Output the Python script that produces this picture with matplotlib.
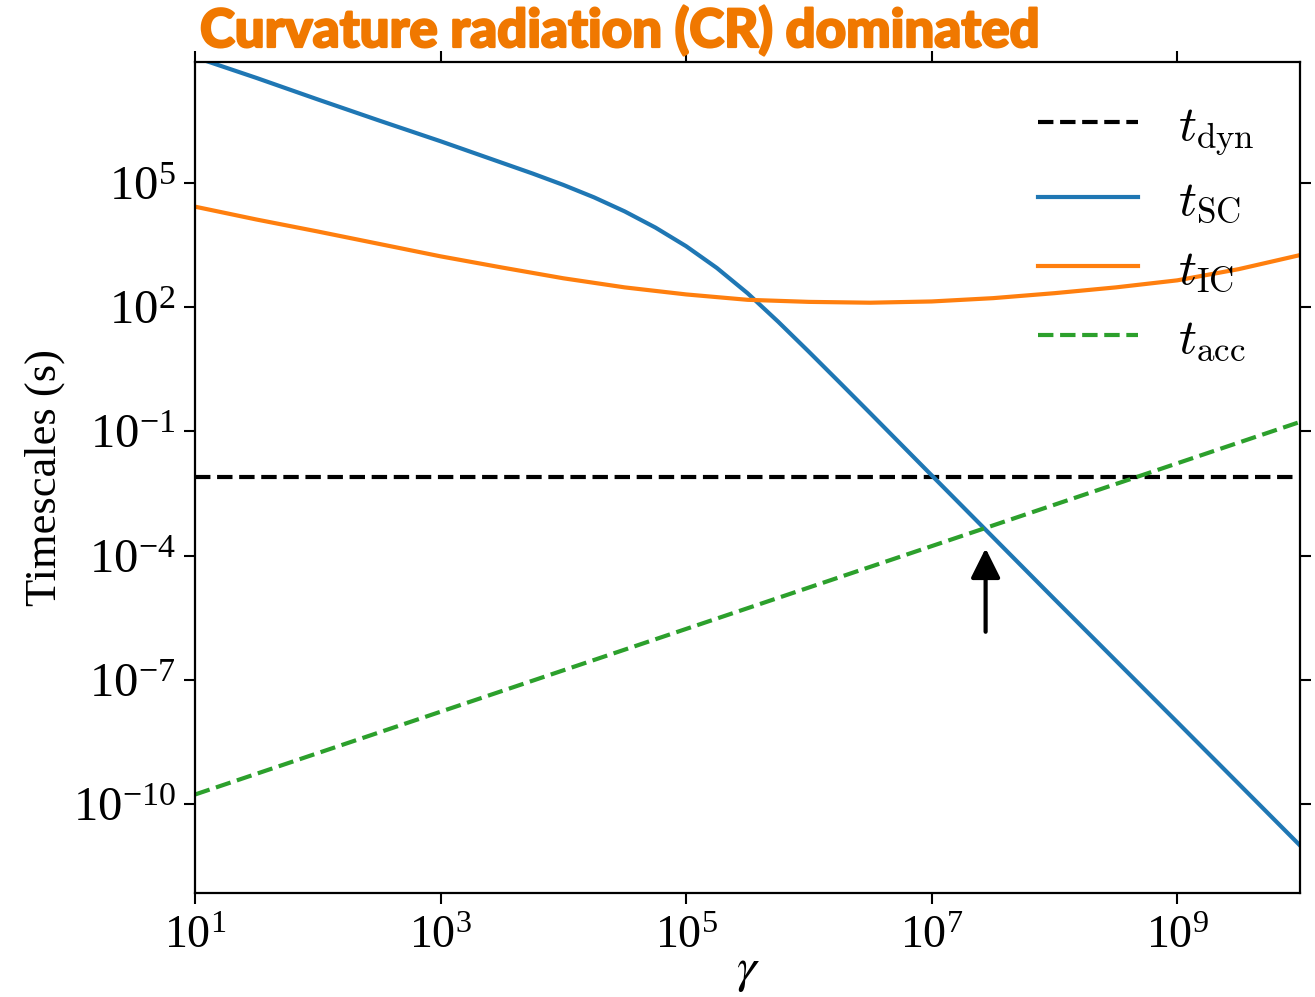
import numpy as np
import matplotlib.pyplot as plt
import matplotlib.patheffects as pe
from matplotlib.font_manager import FontProperties

plt.rcParams['font.family'] = 'serif'
plt.rcParams['font.serif'] = ['Liberation Serif', 'DejaVu Serif']
plt.rcParams['mathtext.fontset'] = 'stix'

# log10 of Lorentz factor and of timescale (s)
lg_gam_sc = [1.0, 1.5, 2.0, 2.5, 3.0, 3.5, 3.75, 4.0, 4.25, 4.5, 4.75, 5.0,
             5.25, 5.5, 5.75, 6.0, 6.25, 6.5, 7.0, 8.0, 9.0, 10.0]
lg_t_sc = [8.04, 7.54, 7.02, 6.51, 6.01, 5.49, 5.23, 4.955, 4.655, 4.315, 3.925, 3.475,
           2.95, 2.34, 1.65, 0.925, 0.185, -0.56, -2.06, -5.05, -8.02, -11.0]

lg_gam_ic = [1.0, 1.5, 2.0, 2.5, 3.0, 3.5, 4.0, 4.5, 5.0, 5.5, 6.0, 6.5,
             7.0, 7.5, 8.0, 8.5, 9.0, 9.5, 10.0]
lg_t_ic = [4.43, 4.12, 3.83, 3.53, 3.23, 2.96, 2.70, 2.48, 2.31, 2.18, 2.13, 2.11,
           2.14, 2.22, 2.34, 2.48, 2.65, 2.92, 3.26]

lg_gam_acc = [1.0, 10.0]
lg_t_acc = [-9.77, -0.77]

lg_gam_dyn = [1.0, 10.0]
lg_t_dyn = [-2.11, -2.11]

# where t_acc meets t_SC
gam_arrow = 2.75e7
arrow_tip = 1.5e-4
arrow_tail = 1.45e-6

fig = plt.figure(figsize=(13.15, 9.97), dpi=100)
ax = fig.add_axes([195/1315, 1-893/997, (1300-195)/1315, (893-62)/997])

lw = 3
ax.plot(10**np.array(lg_gam_dyn), 10**np.array(lg_t_dyn), 'k--', lw=lw, label=r'$t_{\rm dyn}$')
ax.plot(10**np.array(lg_gam_sc), 10**np.array(lg_t_sc), color='#1f77b4', lw=lw, label=r'$t_{\rm SC}$')
ax.plot(10**np.array(lg_gam_ic), 10**np.array(lg_t_ic), color='#ff7f0e', lw=lw, label=r'$t_{\rm IC}$')
ax.plot(10**np.array(lg_gam_acc), 10**np.array(lg_t_acc), '--', color='#2ca02c', lw=lw, label=r'$t_{\rm acc}$')

ax.annotate('', xy=(gam_arrow, arrow_tip), xytext=(gam_arrow, arrow_tail),
            arrowprops=dict(arrowstyle='-|>,head_width=0.45,head_length=0.9',
                            mutation_scale=20, lw=3, color='k',
                            shrinkA=0, shrinkB=0))

ax.set_xscale('log')
ax.set_yscale('log')
ax.set_xlim(1e1, 1e10)
ax.set_ylim(7.1e-13, 8.4e7)
ax.set_xticks([1e1, 1e3, 1e5, 1e7, 1e9])
ax.set_yticks([1e-10, 1e-7, 1e-4, 1e-1, 1e2, 1e5])
ax.minorticks_off()
ax.tick_params(which='both', direction='out', length=8, width=1.5,
               top=True, right=True, pad=6)
ax.tick_params(axis='y', labelsize=35)
ax.tick_params(axis='x', labelsize=33, pad=8)
for s in ax.spines.values():
    s.set_linewidth(1.6)

ax.set_xlabel(r'$\gamma$', fontsize=36)
ax.xaxis.set_label_coords(0.5, -0.066)
ax.set_ylabel('Timescales (s)', fontsize=32)
ax.yaxis.set_label_coords(-0.118, 0.5)

leg_font = FontProperties(size=36, math_fontfamily='cm')
ax.legend(loc='upper right', frameon=False, prop=leg_font,
          bbox_to_anchor=(1.0, 1.004), labelspacing=0.45)

title_color = '#f07800'
fig.text(200/1315, 1-47/997, 'Curvature radiation (CR) dominated',
         fontsize=38, fontweight='black', color=title_color,
         family=['Lato', 'Roboto', 'DejaVu Sans'], va='baseline', ha='left',
         path_effects=[pe.withStroke(linewidth=1.6, foreground=title_color)])

fig.savefig('out.png', dpi=100)
